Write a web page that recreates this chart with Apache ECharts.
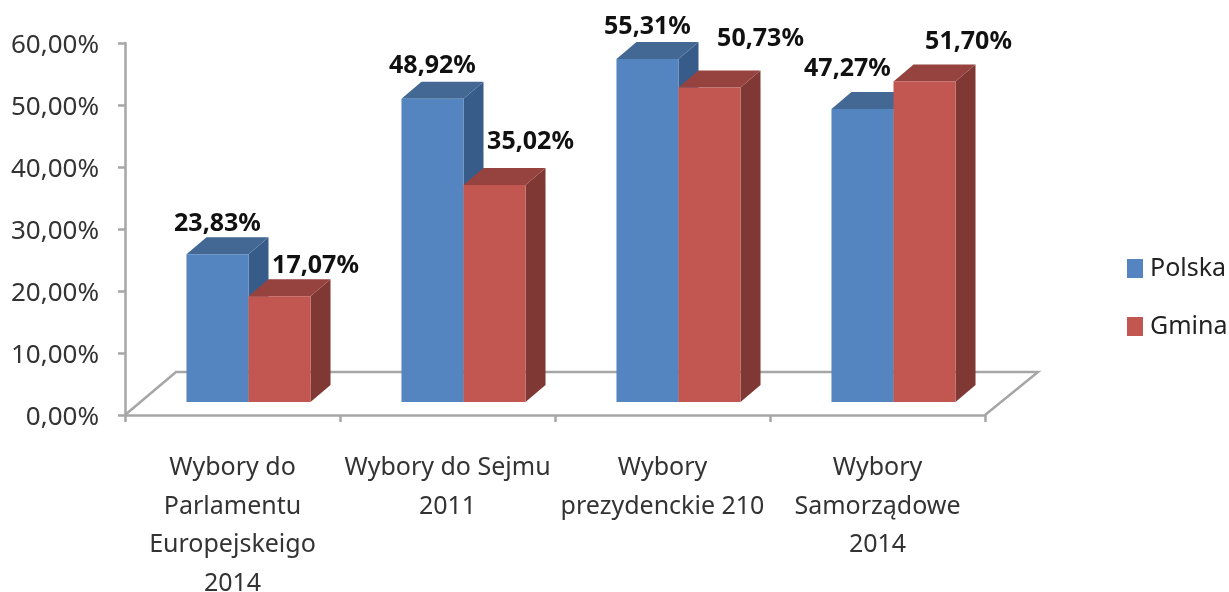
<!DOCTYPE html>
<html lang="pl">
<head>
<meta charset="utf-8" />
<title></title>
<script src="https://cdn.jsdelivr.net/npm/echarts@6/dist/echarts.min.js"></script>
<style>html,body{margin:0;padding:0;background:#fff}</style>
</head>
<body>
<div id="main" style="width:1229px;height:592px;"></div>
<script>
var categories = ['Wybory do\nParlamentu\nEuropejskeigo\n2014', 'Wybory do Sejmu\n2011', 'Wybory\nprezydenckie 210', 'Wybory\nSamorządowe\n2014'];
var polska = [23.83, 48.92, 55.31, 47.27];
var gmina = [17.07, 35.02, 50.73, 51.70];

var fontName = '"Noto Sans", sans-serif';
var axisGray = '#a6a6a6';
// label shifts from the top of the bar front
var polskaNudge = [[0, -30], [0, -33], [0, -32], [-15, -40]];
var gminaNudge = [[36, -30], [36, -43], [51, -49], [44, -40]];

function fmt(v) {
  return v.toFixed(2).replace('.', ',') + '%';
}

function bar3d(side, colors, nudge) {
  return function (params, api) {
    var i = api.value(0);
    var val = api.value(1);
    var top = api.coord([i, val]);
    var base = api.coord([i, 0]);
    var band = api.size([1, 0])[0];
    var w = band * 0.2885;
    var x0 = top[0] + 16 + (side === 0 ? -w : 0);
    var x1 = x0 + w;
    var yt = top[1] - 13;
    var yb = base[1] - 13;
    var dx = 20, dy = 17;
    return {
      type: 'group',
      children: [
        { type: 'polygon', shape: { points: [[x1, yt], [x1 + dx, yt - dy], [x1 + dx, yb - dy], [x1, yb]] }, style: { fill: colors[2] } },
        { type: 'polygon', shape: { points: [[x0, yt], [x0 + dx, yt - dy], [x1 + dx, yt - dy], [x1, yt]] }, style: { fill: colors[1] } },
        { type: 'rect', shape: { x: x0, y: yt, width: w, height: yb - yt }, style: { fill: colors[0] } },
        {
          type: 'text', z2: 10,
          x: (x0 + x1) / 2 + nudge[i][0], y: yt + nudge[i][1],
          style: { text: fmt(val), fill: '#111', font: 'bold 25px ' + fontName, align: 'center', verticalAlign: 'middle' }
        }
      ]
    };
  };
}

function floor(params, api) {
  var g = params.coordSys;
  var yb = g.y + g.height;
  var pts = [[g.x, yb], [g.x + 51, yb - 43], [g.x + g.width + 53, yb - 43], [g.x + g.width, yb]];
  return { type: 'polyline', shape: { points: pts }, style: { fill: null, stroke: axisGray, lineWidth: 2.5 } };
}

function rows(values) {
  return values.map(function (v, i) { return [i, v]; });
}

var myChart = echarts.init(document.getElementById('main'));
myChart.setOption({
  animation: false,
  grid: { left: 125, top: 43, right: 244, bottom: 177, outerBoundsMode: 'none' },
  legend: {
    data: [
      { name: 'Polska', itemStyle: { color: '#5485c1' } },
      { name: 'Gmina', itemStyle: { color: '#c25752' } }
    ],
    orient: 'vertical', left: 1122, top: 251,
    icon: 'rect', itemWidth: 16, itemHeight: 19, itemGap: 33,
    textStyle: { fontFamily: fontName, fontSize: 25, color: '#222', padding: [0, 0, 0, 2] }
  },
  xAxis: {
    type: 'category',
    data: categories,
    axisLine: { lineStyle: { color: axisGray, width: 2.5 } },
    axisTick: { show: true, alignWithLabel: false, length: 7, lineStyle: { color: axisGray, width: 2.5 } },
    axisLabel: { interval: 0, margin: 34, fontFamily: fontName, fontSize: 25, lineHeight: 38.5, color: '#333' }
  },
  yAxis: {
    type: 'value', min: 0, max: 60, interval: 10,
    axisLine: { show: true, lineStyle: { color: axisGray, width: 2.5 } },
    axisTick: { show: true, length: 7, lineStyle: { color: axisGray, width: 2.5 } },
    splitLine: { show: false },
    axisLabel: {
      margin: 26, fontFamily: fontName, fontSize: 26, color: '#333', verticalAlign: 'top', lineHeight: 5,
      formatter: function (v) { return fmt(v); }
    }
  },
  series: [
    { type: 'custom', name: 'floor', data: [[0, 0]], renderItem: floor, silent: true, z: 1 },
    { type: 'custom', name: 'Polska', data: rows(polska), renderItem: bar3d(0, ['#5485c1', '#436893', '#385c8a'], polskaNudge), encode: { x: 0, y: 1 }, itemStyle: { color: '#5485c1' }, z: 2 },
    { type: 'custom', name: 'Gmina', data: rows(gmina), renderItem: bar3d(1, ['#c25752', '#96423e', '#803835'], gminaNudge), encode: { x: 0, y: 1 }, itemStyle: { color: '#c25752' }, z: 3 }
  ]
});
</script>
</body>
</html>
